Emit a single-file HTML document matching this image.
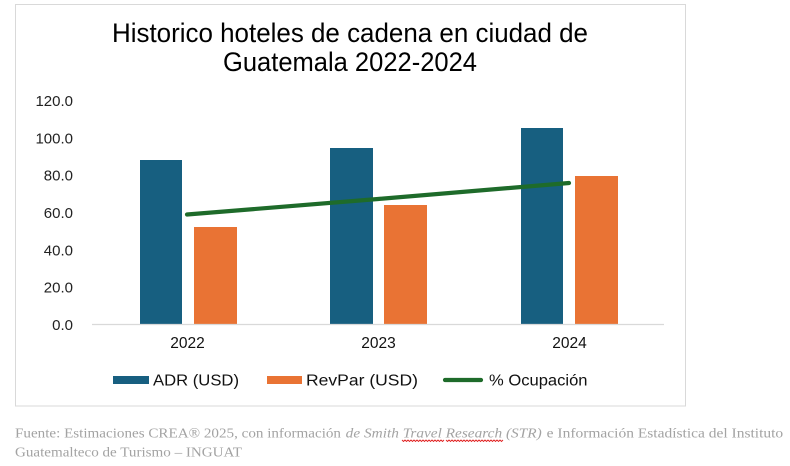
<!DOCTYPE html>
<html>
<head>
<meta charset="utf-8">
<style>
html,body{margin:0;padding:0;background:#fff;}
svg{display:block;}
text{font-family:"Liberation Sans",Arial,sans-serif;}
.ft{font-family:"Liberation Serif","DejaVu Serif",serif;fill:#a3a3a3;font-size:13.5px;}
</style>
</head>
<body>
<svg width="790" height="466" viewBox="0 0 790 466" xmlns="http://www.w3.org/2000/svg">
<rect x="0" y="0" width="790" height="466" fill="#fff"/>
<rect x="15.5" y="4.5" width="670" height="401.5" fill="#fff" stroke="#d9d9d9" stroke-width="1"/>

<!-- Title -->
<text x="112" y="42" font-size="26.5" fill="#000" textLength="476" lengthAdjust="spacingAndGlyphs">Historico hoteles de cadena en ciudad de</text>
<text x="223" y="71" font-size="26.5" fill="#000" textLength="254" lengthAdjust="spacingAndGlyphs">Guatemala 2022-2024</text>

<!-- Y axis labels -->
<g font-size="15" fill="#222" text-anchor="end">
<text x="73" y="106">120.0</text>
<text x="73" y="143.3">100.0</text>
<text x="73" y="180.7">80.0</text>
<text x="73" y="218">60.0</text>
<text x="73" y="255.3">40.0</text>
<text x="73" y="292.7">20.0</text>
<text x="73" y="330">0.0</text>
</g>

<!-- Bars -->
<g fill="#175f80">
<rect x="140" y="160" width="42" height="164"/>
<rect x="330" y="148" width="43" height="176"/>
<rect x="521" y="128" width="42" height="196"/>
</g>
<g fill="#e97334">
<rect x="194" y="227" width="43" height="97"/>
<rect x="384" y="205" width="43" height="119"/>
<rect x="575" y="176" width="43" height="148"/>
</g>

<!-- Axis line -->
<line x1="92" y1="324.5" x2="664" y2="324.5" stroke="#d9d9d9" stroke-width="1.2"/>

<!-- Occupancy line -->
<polyline points="187,214.5 378,199 569,183" fill="none" stroke="#1e6b2a" stroke-width="4.2" stroke-linecap="round" stroke-linejoin="round"/>

<!-- X labels -->
<g font-size="15.5" fill="#111" text-anchor="middle">
<text x="187.5" y="348">2022</text>
<text x="378.5" y="348">2023</text>
<text x="569.5" y="348">2024</text>
</g>

<!-- Legend -->
<rect x="113" y="376" width="36" height="8" fill="#175f80"/>
<text x="153" y="385.5" font-size="15.5" fill="#111" textLength="86" lengthAdjust="spacingAndGlyphs">ADR (USD)</text>
<rect x="267" y="376" width="35" height="8" fill="#e97334"/>
<text x="306" y="385.5" font-size="15.5" fill="#111" textLength="112" lengthAdjust="spacingAndGlyphs">RevPar  (USD)</text>
<line x1="445" y1="380" x2="481" y2="380" stroke="#1e6b2a" stroke-width="4.2" stroke-linecap="round"/>
<text x="489" y="385.5" font-size="15.5" fill="#111" textLength="98.5" lengthAdjust="spacingAndGlyphs">% Ocupación</text>

<!-- Footer -->
<text class="ft" x="15" y="437.7" textLength="326" lengthAdjust="spacingAndGlyphs">Fuente: Estimaciones CREA® 2025, con información</text>
<text class="ft" x="345.7" y="437.7" font-style="italic" textLength="196" lengthAdjust="spacingAndGlyphs">de Smith Travel Research (STR)</text>
<text class="ft" x="546.7" y="437.7" textLength="236.5" lengthAdjust="spacingAndGlyphs">e Información Estadística del Instituto</text>
<text class="ft" x="15" y="456.7" textLength="227" lengthAdjust="spacingAndGlyphs">Guatemalteco de Turismo – INGUAT</text>

<!-- red wavy underline -->
<polyline fill="none" stroke="#e02020" stroke-width="0.9" points="402,440 403.5,441.5 405,440 406.5,441.5 408,440 409.5,441.5 411,440 412.5,441.5 414,440 415.5,441.5 417,440 418.5,441.5 420,440 421.5,441.5 423,440 424.5,441.5 426,440 427.5,441.5 429,440 430.5,441.5 432,440 433.5,441.5 435,440 436.5,441.5 438,440 439.5,441.5 441,440 442.5,441.5 444,440"/>
<polyline fill="none" stroke="#e02020" stroke-width="0.9" points="446,440 447.5,441.5 449,440 450.5,441.5 452,440 453.5,441.5 455,440 456.5,441.5 458,440 459.5,441.5 461,440 462.5,441.5 464,440 465.5,441.5 467,440 468.5,441.5 470,440 471.5,441.5 473,440 474.5,441.5 476,440 477.5,441.5 479,440 480.5,441.5 482,440 483.5,441.5 485,440 486.5,441.5 488,440 489.5,441.5 491,440 492.5,441.5 494,440 495.5,441.5 497,440 498.5,441.5 500,440 501.5,441.5 503,440"/>
</svg>
</body>
</html>
